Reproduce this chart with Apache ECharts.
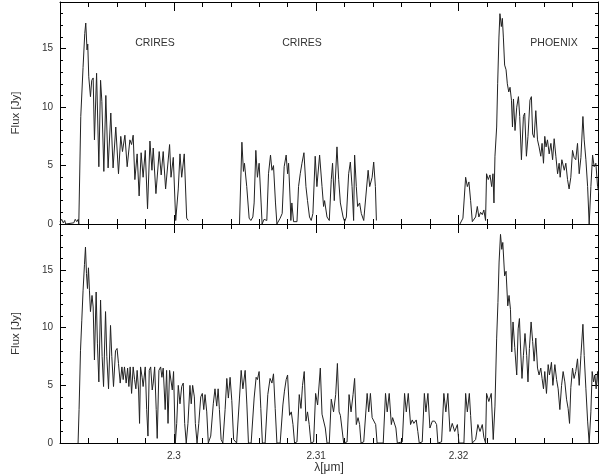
<!DOCTYPE html>
<html>
<head>
<meta charset="utf-8">
<script src="https://cdn.jsdelivr.net/npm/echarts@6/dist/echarts.min.js"></script>
<style>
  html, body { margin: 0; padding: 0; background: #fff; }
  #chart { width: 600px; height: 475px; }
</style>
</head>
<body>
<div id="chart"></div>
<script>
// axis ranges and ticks
var xMin = 2.292;
var xMax = 2.3298;
var xMajorTicks = [2.30, 2.31, 2.32];
var xMinorTicks = [2.294, 2.296, 2.298, 2.302, 2.304, 2.306, 2.308, 2.312, 2.314,
  2.316, 2.318, 2.322, 2.324, 2.326, 2.328];
var yMax = 19;
var yMajorTicks = [0, 5, 10, 15];
var yMinorTicks = [1, 2, 3, 4, 6, 7, 8, 9, 11, 12, 13, 14, 16, 17, 18];

// instrument labels of the top panel
var instrumentNames = ["CRIRES", "CRIRES", "PHOENIX"];

// top panel: observed spectrum (null = gap between the pieces)
var topWave = [
  2.29201, 2.29212, 2.29223, 2.29233, 2.29240, 2.29297, 2.29307, 2.29318, 2.29328, 2.29332,
  2.29346, 2.29362, 2.29374, 2.29381, 2.29390, 2.29395, 2.29402, 2.29414, 2.29423, 2.29433,
  2.29442, 2.29457, 2.29473, 2.29485, 2.29494, 2.29508, 2.29522, 2.29538, 2.29557, 2.29573,
  2.29592, 2.29611, 2.29627, 2.29639, 2.29656, 2.29672, 2.29691, 2.29703, 2.29714, 2.29726,
  2.29742, 2.29756, 2.29770, 2.29784, 2.29799, 2.29815, 2.29832, 2.29846, 2.29855, 2.29874,
  2.29897, 2.29911, 2.29925, 2.29942, 2.29970, 2.29980, 2.29996, 2.30013, 2.30031, 2.30043,
  2.30055, 2.30073, 2.30090, 2.30101, 2.30280,
  2.30461, 2.30478, 2.30489, 2.30496, 2.30512, 2.30529, 2.30541, 2.30555, 2.30564, 2.30576,
  2.30587, 2.30599, 2.30613, 2.30620, 2.30634, 2.30653, 2.30665, 2.30679, 2.30689, 2.30700,
  2.30714, 2.30724, 2.30747, 2.30761, 2.30775, 2.30789, 2.30799, 2.30806, 2.30818, 2.30822,
  2.30829, 2.30841, 2.30865, 2.30876, 2.30888, 2.30900, 2.30914, 2.30928, 2.30939, 2.30953,
  2.30965, 2.30977, 2.30993, 2.31005, 2.31024, 2.31041, 2.31052, 2.31059, 2.31076, 2.31092,
  2.31106, 2.31115, 2.31127, 2.31146, 2.31158, 2.31170, 2.31189, 2.31200, 2.31212, 2.31228,
  2.31240, 2.31252, 2.31263, 2.31270, 2.31282, 2.31291, 2.31305, 2.31317, 2.31334, 2.31346,
  2.31365, 2.31376, 2.31393, 2.31404, 2.31416, 2.31423, 2.31700,
  2.32010, 2.32031, 2.32050, 2.32062, 2.32073, 2.32085, 2.32097, 2.32108, 2.32120, 2.32132,
  2.32143, 2.32155, 2.32167, 2.32178, 2.32190, 2.32197, 2.32209, 2.32221, 2.32233, 2.32242,
  2.32249, 2.32256, 2.32268, 2.32275, 2.32284, 2.32291, 2.32301, 2.32308, 2.32315, 2.32324,
  2.32334, 2.32343, 2.32353, 2.32362, 2.32372, 2.32379, 2.32386, 2.32397, 2.32409, 2.32421,
  2.32430, 2.32442, 2.32456, 2.32465, 2.32477, 2.32488, 2.32502, 2.32512, 2.32521, 2.32531,
  2.32543, 2.32555, 2.32566, 2.32578, 2.32587, 2.32597, 2.32606, 2.32615, 2.32625, 2.32637,
  2.32649, 2.32661, 2.32672, 2.32684, 2.32696, 2.32707, 2.32714, 2.32726, 2.32743, 2.32754,
  2.32766, 2.32777, 2.32789, 2.32801, 2.32812, 2.32824, 2.32836, 2.32848, 2.32860, 2.32874,
  2.32883, 2.32895, 2.32907, 2.32918, 2.32930, 2.32942, 2.32953, 2.32965, 2.32977, 2.32988
];
var topFlux = [
  0.2, 0.4, 0.1, 0.3, 0.0, 0.1, 0.4, 0.2, 0.4, 0.0,
  9.2, 13.4, 16.3, 17.2, 14.9, 15.4, 12.6, 10.9, 12.3, 12.5,
  7.2, 12.9, 4.9, 12.3, 10.5, 4.5, 11.0, 4.8, 9.5, 4.8,
  8.3, 4.3, 7.5, 6.2, 7.6, 4.9, 7.2, 6.8, 7.6, 3.8,
  6.0, 2.4, 6.1, 4.0, 6.3, 1.3, 7.1, 4.6, 6.5, 2.6,
  6.2, 4.2, 6.2, 3.0, 6.8, 4.0, 5.7, 0.3, 3.0, 6.0,
  4.0, 6.0, 0.5, 0.3, null,
  0.0, 7.0, 4.5, 5.2, 3.2, 0.5, 0.3, 0.6, 1.8, 6.3,
  4.0, 5.2, 1.8, 0.0, 0.4, 0.3, 4.3, 5.9, 4.6, 5.0,
  1.8, 0.0, 0.5, 0.9, 4.9, 5.9, 4.3, 5.2, 1.8, 0.3,
  1.8, 0.2, 0.2, 3.2, 4.3, 5.2, 6.1, 3.2, 2.0, 0.6,
  0.3, 0.9, 5.8, 3.2, 5.9, 3.2, 1.5, 2.0, 0.6, 0.3,
  3.8, 5.2, 2.0, 6.6, 3.8, 1.8, 0.6, 0.2, 0.6, 4.3,
  5.3, 3.2, 0.3, 5.9, 3.2, 1.5, 1.8, 0.9, 0.3, 0.2,
  4.6, 3.2, 4.0, 5.3, 3.2, 0.3, null,
  0.0, 0.5, 4.0, 3.2, 3.6, 2.0, 0.2, 0.1, 0.6, 1.5,
  0.6, 1.0, 0.8, 1.2, 0.3, 4.3, 3.8, 4.2, 3.2, 4.3,
  1.8, 5.8, 8.3, 12.0, 16.0, 18.0, 16.9, 17.6, 16.0, 13.6,
  13.2, 12.0, 11.3, 11.7, 10.6, 8.3, 10.7, 8.0, 10.0, 10.9,
  9.2, 5.5, 9.2, 9.5, 5.8, 7.5, 10.6, 10.9, 7.7, 7.4,
  9.7, 7.2, 6.6, 5.8, 6.9, 5.2, 7.5, 6.6, 7.2, 6.0,
  6.9, 5.5, 7.3, 5.8, 4.3, 5.2, 4.0, 5.5, 4.6, 5.2,
  3.8, 3.0, 4.0, 6.3, 5.7, 5.5, 6.9, 4.3, 5.7, 9.2,
  7.2, 5.5, 3.2, 0.0, 3.2, 5.9, 4.9, 5.2, 3.2, 2.6
];

// bottom panel: model spectrum
var bottomWave = [
  2.29327, 2.29334, 2.29344, 2.29353, 2.29362, 2.29372, 2.29379, 2.29386, 2.29393, 2.29400,
  2.29407, 2.29414, 2.29425, 2.29433, 2.29442, 2.29454, 2.29463, 2.29473, 2.29485, 2.29496,
  2.29506, 2.29520, 2.29529, 2.29541, 2.29555, 2.29564, 2.29576, 2.29590, 2.29601, 2.29611,
  2.29623, 2.29635, 2.29644, 2.29653, 2.29665, 2.29675, 2.29684, 2.29693, 2.29703, 2.29714,
  2.29724, 2.29733, 2.29742, 2.29752, 2.29759, 2.29766, 2.29777, 2.29784, 2.29799, 2.29809,
  2.29818, 2.29827, 2.29837, 2.29848, 2.29855, 2.29865, 2.29876, 2.29883, 2.29895, 2.29907,
  2.29916, 2.29925, 2.29939, 2.29949, 2.29959, 2.29970, 2.29980, 2.29989, 2.29998, 2.30010,
  2.30020, 2.30031, 2.30043, 2.30055, 2.30066, 2.30076, 2.30087, 2.30099, 2.30113, 2.30122,
  2.30132, 2.30144, 2.30151, 2.30163, 2.30175, 2.30189, 2.30200, 2.30210, 2.30219, 2.30231,
  2.30242, 2.30259, 2.30277, 2.30289, 2.30301, 2.30311, 2.30320, 2.30332, 2.30344, 2.30360,
  2.30372, 2.30383, 2.30395, 2.30407, 2.30420, 2.30441, 2.30461, 2.30473, 2.30485, 2.30501,
  2.30513, 2.30524, 2.30543, 2.30564, 2.30578, 2.30587, 2.30599, 2.30611, 2.30622, 2.30641,
  2.30660, 2.30676, 2.30689, 2.30700, 2.30712, 2.30724, 2.30747, 2.30766, 2.30777, 2.30789,
  2.30799, 2.30813, 2.30825, 2.30837, 2.30848, 2.30865, 2.30881, 2.30893, 2.30904, 2.30916,
  2.30928, 2.30939, 2.30951, 2.30963, 2.30982, 2.30996, 2.31010, 2.31029, 2.31041, 2.31052,
  2.31064, 2.31076, 2.31092, 2.31106, 2.31122, 2.31137, 2.31149, 2.31161, 2.31170, 2.31179,
  2.31193, 2.31217, 2.31231, 2.31245, 2.31259, 2.31270, 2.31282, 2.31294, 2.31305, 2.31315,
  2.31334, 2.31358, 2.31369, 2.31381, 2.31393, 2.31404, 2.31418, 2.31428, 2.31471, 2.31487,
  2.31499, 2.31513, 2.31528, 2.31537, 2.31551, 2.31560, 2.31570, 2.31605, 2.31621, 2.31633,
  2.31647, 2.31663, 2.31675, 2.31686, 2.31703, 2.31714, 2.31724, 2.31745, 2.31760, 2.31771,
  2.31785, 2.31799, 2.31816, 2.31832, 2.31846, 2.31855, 2.31881, 2.31897, 2.31911, 2.31925,
  2.31940, 2.31956, 2.31973, 2.31992, 2.32003, 2.32038, 2.32050, 2.32062, 2.32076, 2.32085,
  2.32097, 2.32120, 2.32136, 2.32151, 2.32167, 2.32178, 2.32190, 2.32197, 2.32213, 2.32230,
  2.32244, 2.32256, 2.32268, 2.32277, 2.32285, 2.32295, 2.32304, 2.32311, 2.32324, 2.32334,
  2.32346, 2.32355, 2.32365, 2.32374, 2.32383, 2.32395, 2.32409, 2.32419, 2.32428, 2.32437,
  2.32446, 2.32456, 2.32467, 2.32479, 2.32488, 2.32498, 2.32510, 2.32521, 2.32531, 2.32543,
  2.32555, 2.32566, 2.32578, 2.32587, 2.32597, 2.32606, 2.32618, 2.32630, 2.32639, 2.32653,
  2.32663, 2.32677, 2.32689, 2.32700, 2.32712, 2.32724, 2.32735, 2.32747, 2.32759, 2.32770,
  2.32780, 2.32789, 2.32801, 2.32812, 2.32824, 2.32836, 2.32848, 2.32860, 2.32874, 2.32883,
  2.32895, 2.32907, 2.32918, 2.32930, 2.32939, 2.32949, 2.32958, 2.32967, 2.32977, 2.32988
];
var bottomFlux = [
  0.0, 2.9, 8.0, 10.6, 13.2, 15.5, 17.0, 14.7, 13.4, 15.2,
  13.2, 11.4, 12.8, 11.8, 7.2, 13.1, 8.6, 5.3, 12.4, 7.5,
  4.9, 11.4, 7.5, 4.7, 10.2, 7.5, 4.9, 8.0, 8.2, 6.9,
  5.2, 6.6, 5.5, 6.6, 5.2, 6.5, 4.9, 6.6, 4.3, 6.6,
  5.5, 4.7, 6.3, 4.6, 1.7, 6.6, 5.7, 4.9, 6.6, 2.9,
  0.6, 6.3, 6.6, 4.6, 5.2, 6.6, 2.9, 0.4, 6.3, 6.6,
  5.7, 6.5, 2.9, 6.3, 1.7, 6.3, 6.2, 4.6, 6.2, 0.0,
  1.7, 5.0, 3.4, 4.9, 5.2, 1.7, 0.0, 1.7, 5.0, 3.4,
  5.0, 4.0, 1.7, 0.0, 1.7, 4.0, 4.3, 2.9, 4.2, 2.7,
  0.0, 0.6, 3.4, 4.7, 3.2, 4.7, 2.9, 0.3, 0.0, 2.9,
  5.6, 3.9, 5.7, 3.7, 0.3, 0.0, 3.9, 6.3, 4.7, 6.3,
  3.3, 0.0, 0.0, 3.9, 5.7, 5.5, 6.2, 3.0, 0.0, 0.0,
  4.2, 5.6, 5.2, 6.0, 3.0, 0.0, 0.0, 3.3, 4.5, 5.5,
  5.9, 2.4, 2.7, 1.6, 0.0, 0.1, 4.2, 3.0, 5.0, 6.2,
  1.9, 2.7, 1.6, 0.0, 0.1, 4.3, 3.3, 6.5, 2.5, 2.6,
  1.3, 0.0, 0.0, 3.8, 2.7, 4.2, 6.9, 2.7, 2.4, 2.3,
  0.0, 0.1, 4.2, 2.7, 4.2, 5.6, 1.6, 2.2, 1.6, 0.0,
  0.1, 4.3, 2.7, 4.3, 2.2, 2.3, 1.6, 0.0, 0.0, 4.3,
  2.7, 4.3, 1.6, 2.2, 2.2, 1.3, 0.0, 0.1, 4.3, 2.7,
  4.3, 1.6, 2.0, 1.7, 2.0, 1.0, 0.0, 0.1, 4.3, 2.7,
  4.3, 1.3, 1.9, 1.9, 1.6, 0.0, 0.1, 4.3, 2.7, 4.3,
  1.0, 1.7, 1.0, 1.6, 0.0, 0.0, 4.3, 2.7, 4.3, 2.4,
  0.0, 0.3, 1.6, 1.0, 1.6, 0.5, 0.0, 4.3, 3.6, 4.3,
  0.3, 3.2, 9.1, 12.2, 15.7, 18.1, 16.8, 17.4, 14.5, 14.9,
  11.9, 12.8, 11.6, 7.9, 10.5, 8.3, 5.9, 9.9, 10.8, 7.9,
  5.6, 7.6, 9.5, 7.6, 5.3, 8.2, 10.5, 8.8, 7.1, 9.1,
  6.5, 5.9, 6.5, 5.6, 4.7, 6.2, 4.3, 6.8, 5.9, 7.0,
  5.0, 6.8, 5.5, 4.7, 2.9, 5.0, 6.2, 5.3, 3.8, 3.0,
  1.7, 4.8, 6.5, 5.6, 6.2, 7.3, 5.0, 7.6, 10.3, 7.6,
  4.7, 1.9, 0.0, 2.7, 6.2, 5.3, 5.9, 4.7, 6.2, 4.0
];

var textColor = "#333";
var fontFamily = "Liberation Sans, Arial, sans-serif";

function pairs(wave, flux) {
  return wave.map(function (w, i) {
    return [w, flux[i] === null ? "-" : flux[i]];
  });
}

function xAxesFor(g, withLabels) {
  var base = {
    gridIndex: g, type: "value", min: xMin, max: xMax,
    splitLine: { show: false },
    axisLine: { onZero: false, lineStyle: { color: "#000", width: 1 } },
    axisLabel: { show: false }
  };
  return [
    Object.assign({}, base, {
      position: "bottom",
      axisTick: { inside: true, length: 5, customValues: xMinorTicks, lineStyle: { color: "#000" } }
    }),
    Object.assign({}, base, {
      position: "bottom",
      axisLine: { show: false, onZero: false },
      axisTick: { inside: true, length: 9, customValues: xMajorTicks, lineStyle: { color: "#000" } },
      axisLabel: {
        show: withLabels, customValues: xMajorTicks, margin: 8,
        color: textColor, fontSize: 10, fontFamily: fontFamily,
        formatter: function (v) { return String(+v.toFixed(3)); }
      },
      name: withLabels ? "λ[μm]" : "",
      nameLocation: "middle", nameGap: 19,
      nameTextStyle: { color: textColor, fontSize: 12, fontFamily: fontFamily }
    }),
    Object.assign({}, base, {
      position: "top",
      axisTick: { inside: true, length: 5, customValues: xMinorTicks, lineStyle: { color: "#000" } }
    }),
    Object.assign({}, base, {
      position: "top",
      axisLine: { show: false, onZero: false },
      axisTick: { inside: true, length: 9, customValues: xMajorTicks, lineStyle: { color: "#000" } }
    })
  ];
}

function yAxesFor(g) {
  var base = {
    gridIndex: g, type: "value", min: 0, max: yMax,
    splitLine: { show: false },
    axisLine: { onZero: false, lineStyle: { color: "#000", width: 1 } },
    axisLabel: { show: false }
  };
  return [
    Object.assign({}, base, {
      position: "left",
      axisTick: { inside: true, length: 3, customValues: yMinorTicks, lineStyle: { color: "#000" } }
    }),
    Object.assign({}, base, {
      position: "left",
      axisLine: { show: false, onZero: false },
      axisTick: { inside: true, length: 6, customValues: yMajorTicks, lineStyle: { color: "#000" } },
      axisLabel: {
        show: true, customValues: yMajorTicks, margin: 7,
        color: textColor, fontSize: 10, fontFamily: fontFamily
      },
      name: "Flux [Jy]", nameLocation: "middle", nameGap: 38,
      nameTextStyle: { color: textColor, fontSize: 11.5, fontFamily: fontFamily }
    }),
    Object.assign({}, base, {
      position: "right",
      axisTick: { inside: true, length: 3, customValues: yMinorTicks, lineStyle: { color: "#000" } }
    }),
    Object.assign({}, base, {
      position: "right",
      axisLine: { show: false, onZero: false },
      axisTick: { inside: true, length: 6, customValues: yMajorTicks, lineStyle: { color: "#000" } }
    })
  ];
}

var lineStyle = { color: "#222", width: 1 };

var myChart = echarts.init(document.getElementById("chart"), null, { renderer: "canvas" });
var option = {
  animation: false,
  backgroundColor: "#fff",
  grid: [
    { left: 60, right: 2, top: 2, height: 222 },
    { left: 60, right: 2, top: 224, height: 221 }
  ],
  xAxis: xAxesFor(0, false).concat(xAxesFor(1, true)),
  yAxis: yAxesFor(0).concat(yAxesFor(1)),
  graphic: [
    { type: "text", x: 155, y: 43, style: { text: instrumentNames[0], align: "center", verticalAlign: "middle", textAlign: "center", textVerticalAlign: "middle", fill: textColor, font: "10.5px " + fontFamily } },
    { type: "text", x: 302, y: 43, style: { text: instrumentNames[1], align: "center", verticalAlign: "middle", textAlign: "center", textVerticalAlign: "middle", fill: textColor, font: "10.5px " + fontFamily } },
    { type: "text", x: 554, y: 43, style: { text: instrumentNames[2], align: "center", verticalAlign: "middle", textAlign: "center", textVerticalAlign: "middle", fill: textColor, font: "10.5px " + fontFamily } }
  ],
  series: [
    {
      type: "line", xAxisIndex: 0, yAxisIndex: 0,
      showSymbol: false, symbol: "none", connectNulls: false,
      lineStyle: lineStyle,
      data: pairs(topWave, topFlux)
    },
    {
      type: "line", xAxisIndex: 4, yAxisIndex: 4,
      showSymbol: false, symbol: "none",
      lineStyle: lineStyle,
      data: pairs(bottomWave, bottomFlux)
    }
  ]
};
myChart.setOption(option);
</script>
</body>
</html>
